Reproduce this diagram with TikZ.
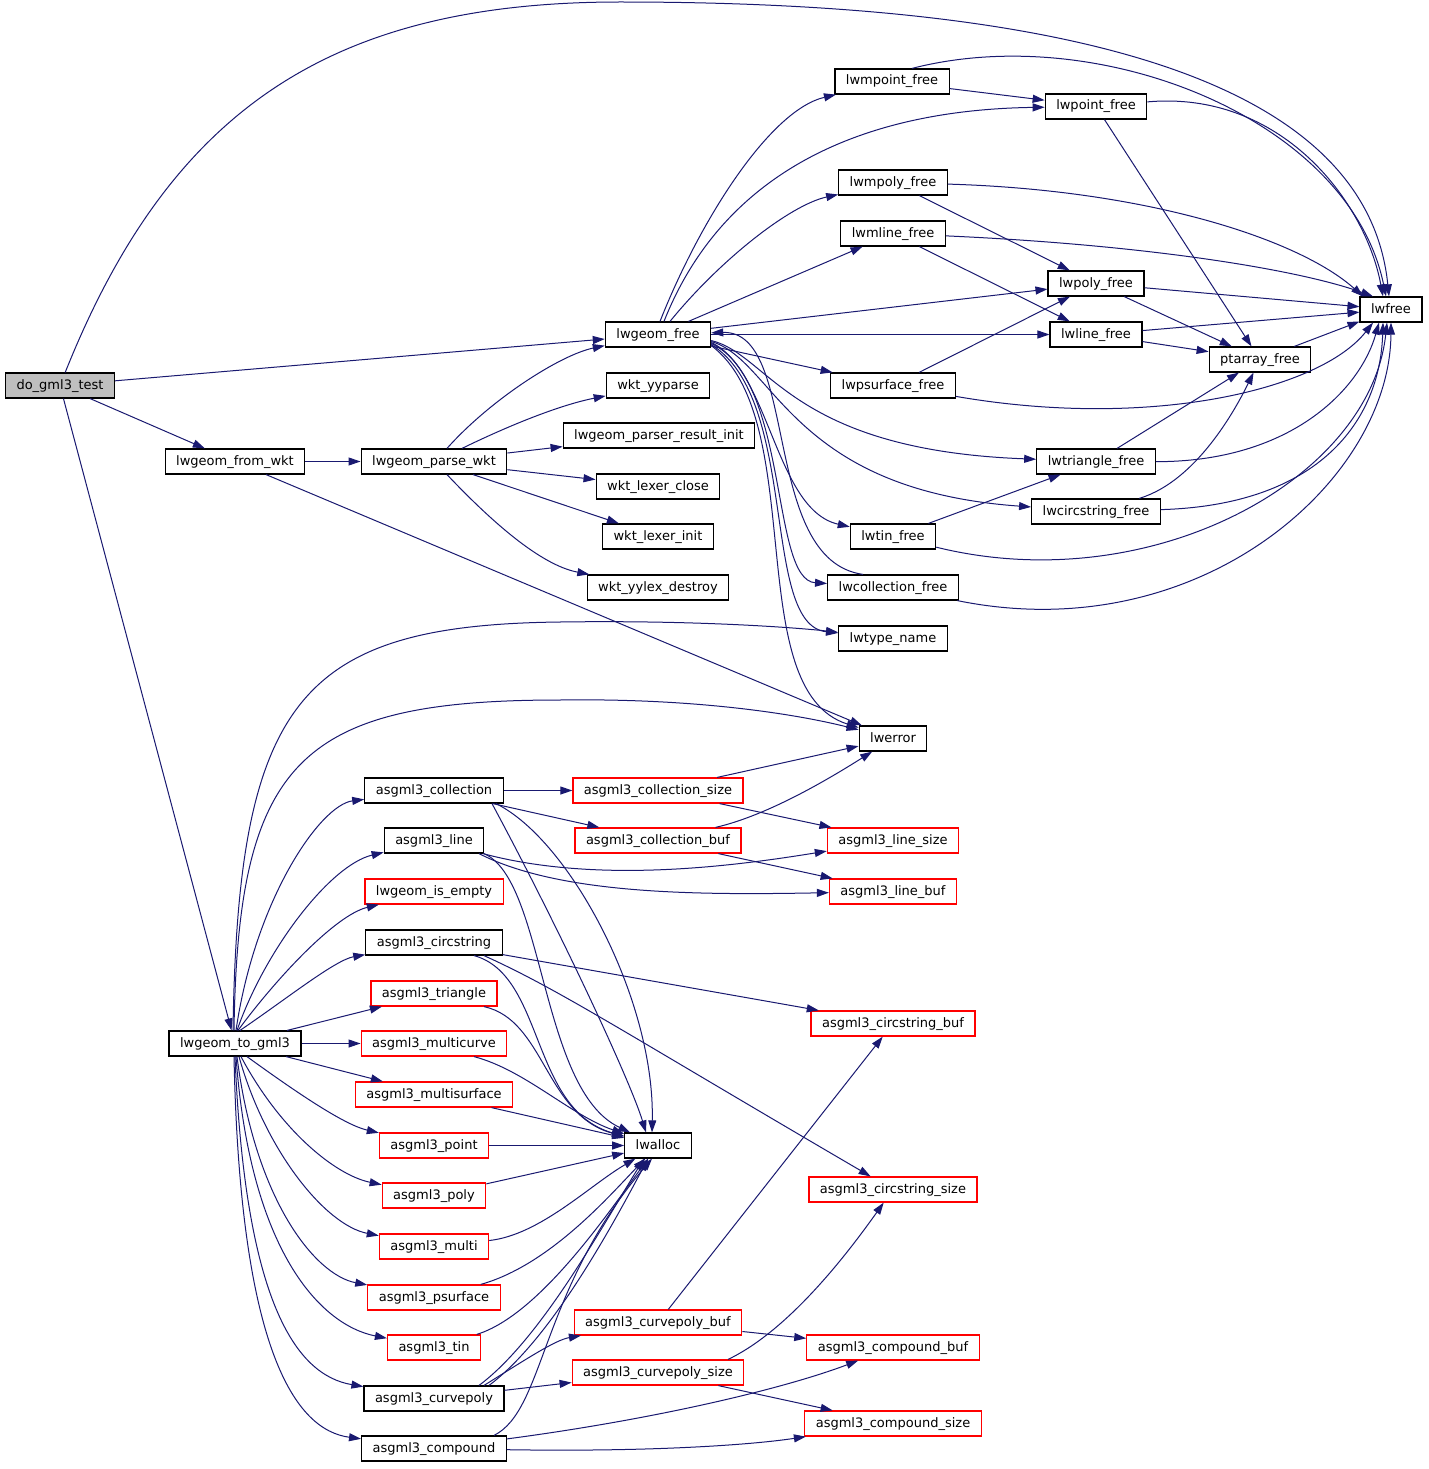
\documentclass[tikz,border=0pt]{standalone}
\usepackage{fontspec}
\setmainfont{DejaVu Sans}
\usetikzlibrary{arrows.meta}
\definecolor{edgeblue}{HTML}{191970}
\definecolor{nodered}{HTML}{FF0000}
\definecolor{rootgray}{HTML}{BFBFBF}

\begin{document}
\begin{tikzpicture}[
	x=1pt,y=-1pt,
	fn/.style={draw=black,line width=1.2pt,fill=white,inner xsep=11pt,inner ysep=0pt,
		minimum height=25pt,text height=10pt,text depth=3pt,font=\fontsize{13}{15}\selectfont},
	fnred/.style={fn,draw=nodered},
	fnroot/.style={fn,fill=rootgray},
	call/.style={draw=edgeblue,line width=1pt,-{Triangle[length=12pt,width=8pt]}}]
\fill[white] (0,0) rectangle (1428,1469);
\useasboundingbox (0,0) rectangle (1428,1469);

\node[fnroot] (dgt) at (60,385.5) {do\_gml3\_test};
\node[fn] (gfree) at (658,334.5) {lwgeom\_free};
\node[fn] (mpointfree) at (892,81.5) {lwmpoint\_free};
\node[fn] (pointfree) at (1096,106.5) {lwpoint\_free};
\node[fn] (mpolyfree) at (893,182.5) {lwmpoly\_free};
\node[fn] (mlinefree) at (893,233.5) {lwmline\_free};
\node[fn] (polyfree) at (1096,283.5) {lwpoly\_free};
\node[fn] (lwfree) at (1391,309.5) {lwfree};
\node[fn] (linefree) at (1096,334.5) {lwline\_free};
\node[fn] (ptarrayfree) at (1260,359.5) {ptarray\_free};
\node[fn] (psurffree) at (893,385.5) {lwpsurface\_free};
\node[fn] (yyparse) at (658,385.5) {wkt\_yyparse};
\node[fn] (resinit) at (659,435.5) {lwgeom\_parser\_result\_init};
\node[fn] (fromwkt) at (235,461.5) {lwgeom\_from\_wkt};
\node[fn] (parsewkt) at (434,461.5) {lwgeom\_parse\_wkt};
\node[fn] (trifree) at (1096,461.5) {lwtriangle\_free};
\node[fn] (lexclose) at (658,486.5) {wkt\_lexer\_close};
\node[fn] (circfree) at (1096,511.5) {lwcircstring\_free};
\node[fn] (tinfree) at (893,536.5) {lwtin\_free};
\node[fn] (lexinit) at (658,536.5) {wkt\_lexer\_init};
\node[fn] (collfree) at (893,587.5) {lwcollection\_free};
\node[fn] (yydestroy) at (658,587.5) {wkt\_yylex\_destroy};
\node[fn] (typename) at (893,638.5) {lwtype\_name};
\node[fn] (lwerror) at (893,738.5) {lwerror};
\node[fn] (collection) at (434,790.5) {asgml3\_collection};
\node[fnred] (collsize) at (658,790.5) {asgml3\_collection\_size};
\node[fn] (gline) at (434,840.5) {asgml3\_line};
\node[fnred] (collbuf) at (658,840.5) {asgml3\_collection\_buf};
\node[fnred] (linesize) at (893,840.5) {asgml3\_line\_size};
\node[fnred] (isempty) at (434,891.5) {lwgeom\_is\_empty};
\node[fnred] (linebuf) at (893,891.5) {asgml3\_line\_buf};
\node[fn] (circstring) at (434,942.5) {asgml3\_circstring};
\node[fnred] (triangle) at (434,993.5) {asgml3\_triangle};
\node[fnred] (circbuf) at (893,1023.5) {asgml3\_circstring\_buf};
\node[fn] (togml) at (235,1043.5) {lwgeom\_to\_gml3};
\node[fnred] (multicurve) at (434,1043.5) {asgml3\_multicurve};
\node[fnred] (multisurf) at (434,1094.5) {asgml3\_multisurface};
\node[fnred] (gpoint) at (434,1145.5) {asgml3\_point};
\node[fn] (lwalloc) at (658,1145.5) {lwalloc};
\node[fnred] (circsize) at (893,1189.5) {asgml3\_circstring\_size};
\node[fnred] (gpoly) at (434,1195.5) {asgml3\_poly};
\node[fnred] (multi) at (434,1246.5) {asgml3\_multi};
\node[fnred] (psurface) at (434,1297.5) {asgml3\_psurface};
\node[fnred] (cpolybuf) at (658,1322.5) {asgml3\_curvepoly\_buf};
\node[fnred] (compbuf) at (893,1347.5) {asgml3\_compound\_buf};
\node[fnred] (tin) at (434,1347.5) {asgml3\_tin};
\node[fnred] (cpolysize) at (658,1372.5) {asgml3\_curvepoly\_size};
\node[fn] (curvepoly) at (434,1398.5) {asgml3\_curvepoly};
\node[fnred] (compsize) at (893,1423.5) {asgml3\_compound\_size};
\node[fn] (compound) at (434,1448.5) {asgml3\_compound};

\draw[call] (dgt) .. controls (170,110) and (330,2) .. (620,2) .. controls (1150,2) and (1370,110) .. ([xshift=-2pt]lwfree.north);
\draw[call] (dgt) -- (gfree);
\draw[call] (dgt) -- (fromwkt);
\draw[call] (dgt) -- (togml);

\draw[call] ([xshift=2pt]gfree.north) .. controls (700,220) and (770,110) .. (mpointfree);
\draw[call] ([xshift=6pt]gfree.north) .. controls (720,180) and (850,110) .. (pointfree);
\draw[call] ([xshift=12pt]gfree.north) .. controls (720,260) and (790,205) .. (mpolyfree);
\draw[call] (gfree) -- (mlinefree);
\draw[call] (gfree) -- (polyfree);
\draw[call] (gfree) -- (linefree);
\draw[call] (gfree) -- (psurffree);
\draw[call] ([yshift=-6pt]gfree.east) .. controls (770,355) and (790,450) .. (trifree);
\draw[call] ([yshift=-7pt]gfree.east) .. controls (775,360) and (790,490) .. (circfree);
\draw[call] ([yshift=-8pt]gfree.east) .. controls (770,370) and (775,510) .. (tinfree);
\draw[call] ([yshift=-9pt]gfree.east) .. controls (790,380) and (770,580) .. (collfree);
\draw[call] ([yshift=-10pt]gfree.east) .. controls (800,400) and (760,625) .. (typename);
\draw[call] ([yshift=-11pt]gfree.east) .. controls (810,420) and (740,690) .. (lwerror);
\draw[call] ([xshift=-30pt]collfree.north) .. controls (760,560) and (800,330) .. (gfree);

\draw[call] (mpointfree) -- (pointfree);
\draw[call] ([xshift=20pt]mpointfree.north) .. controls (1100,20) and (1350,120) .. ([xshift=-5pt]lwfree.north);
\draw[call] (pointfree) .. controls (1280,90) and (1365,200) .. ([xshift=-8pt]lwfree.north);
\draw[call] (pointfree) -- (ptarrayfree);
\draw[call] (mpolyfree) .. controls (1150,190) and (1300,240) .. ([xshift=-28pt]lwfree.north);
\draw[call] (mpolyfree) -- (polyfree);
\draw[call] (mlinefree) .. controls (1150,245) and (1300,270) .. ([xshift=-18pt]lwfree.north);
\draw[call] (mlinefree) -- (linefree);
\draw[call] (polyfree) -- (lwfree);
\draw[call] (polyfree) -- (ptarrayfree);
\draw[call] (linefree) -- (lwfree);
\draw[call] (linefree) -- (ptarrayfree);
\draw[call] (ptarrayfree) -- (lwfree);
\draw[call] (psurffree) -- (polyfree);
\draw[call] (psurffree) .. controls (1150,430) and (1320,390) .. ([xshift=-18pt]lwfree.south);
\draw[call] (trifree) -- (ptarrayfree);
\draw[call] (trifree) .. controls (1290,462) and (1360,390) .. ([xshift=-12pt]lwfree.south);
\draw[call] (circfree) .. controls (1200,480) and (1240,400) .. (ptarrayfree);
\draw[call] (circfree) .. controls (1320,505) and (1380,420) .. ([xshift=-8pt]lwfree.south);
\draw[call] (tinfree) -- (trifree);
\draw[call] (tinfree) .. controls (1150,600) and (1370,480) .. ([xshift=-4pt]lwfree.south);
\draw[call] (collfree) .. controls (1200,650) and (1390,480) .. (lwfree.south);

\draw[call] (fromwkt) -- (parsewkt);
\draw[call] (fromwkt) -- (lwerror);
\draw[call] ([xshift=13pt]parsewkt.north) .. controls (490,400) and (560,355) .. (gfree);
\draw[call] ([xshift=28pt]parsewkt.north) .. controls (510,425) and (560,405) .. (yyparse);
\draw[call] (parsewkt) -- (resinit);
\draw[call] (parsewkt) -- (lexclose);
\draw[call] (parsewkt) -- (lexinit);
\draw[call] ([xshift=13pt]parsewkt.south) .. controls (490,520) and (540,565) .. (yydestroy);

\draw[call] ([xshift=-2pt]togml.north) .. controls (238,700) and (300,625) .. (560,622) .. controls (700,620) and (800,628) .. (typename);
\draw[call] ([xshift=-1pt]togml.north) .. controls (238,760) and (300,700) .. (560,700) .. controls (700,698) and (800,715) .. (lwerror);
\draw[call] ([xshift=1pt]togml.north) .. controls (255,900) and (320,805) .. (collection);
\draw[call] ([xshift=2pt]togml.north) .. controls (265,950) and (330,865) .. (gline);
\draw[call] ([xshift=3pt]togml.north) .. controls (275,980) and (335,915) .. (isempty);
\draw[call] ([xshift=5pt]togml.north) .. controls (285,1000) and (335,960) .. (circstring);
\draw[call] (togml) -- (triangle);
\draw[call] (togml) -- (multicurve);
\draw[call] (togml) -- (multisurf);
\draw[call] ([xshift=12pt]togml.south) .. controls (300,1095) and (345,1125) .. (gpoint);
\draw[call] ([xshift=6pt]togml.south) .. controls (280,1130) and (335,1175) .. (gpoly);
\draw[call] ([xshift=4pt]togml.south) .. controls (265,1150) and (325,1225) .. (multi);
\draw[call] ([xshift=2pt]togml.south) .. controls (255,1200) and (315,1275) .. (psurface);
\draw[call] ([xshift=1pt]togml.south) .. controls (250,1250) and (320,1325) .. (tin);
\draw[call] (togml.south) .. controls (245,1300) and (295,1375) .. (curvepoly);
\draw[call] ([xshift=-1pt]togml.south) .. controls (240,1350) and (295,1430) .. (compound);

\draw[call] (collection) -- (collsize);
\draw[call] (collection) -- (collbuf);
\draw[call] ([xshift=58pt]collection.south) .. controls (560,930) and (630,1080) .. ([xshift=-12pt]lwalloc.north);
\draw[call] ([xshift=62pt]collection.south) .. controls (570,840) and (655,1000) .. ([xshift=-6pt]lwalloc.north);
\draw[call] (collsize) -- (lwerror);
\draw[call] (collsize) -- (linesize);
\draw[call] (collbuf) .. controls (770,815) and (835,775) .. (lwerror);
\draw[call] (collbuf) -- (linebuf);
\draw[call] (gline) .. controls (600,885) and (740,865) .. (linesize);
\draw[call] ([xshift=45pt]gline.south) .. controls (560,895) and (700,895) .. (linebuf);
\draw[call] ([xshift=50pt]gline.south) .. controls (545,880) and (540,1090) .. (lwalloc);
\draw[call] (circstring) -- (circbuf);
\draw[call] ([xshift=50pt]circstring.south) .. controls (560,990) and (620,1030) .. (circsize);
\draw[call] ([xshift=40pt]circstring.south) .. controls (545,975) and (530,1110) .. (lwalloc);
\draw[call] ([xshift=50pt]triangle.south) .. controls (545,1020) and (545,1115) .. (lwalloc);
\draw[call] ([xshift=40pt]multicurve.south) .. controls (525,1070) and (570,1115) .. (lwalloc);
\draw[call] (multisurf) -- (lwalloc);
\draw[call] (gpoint) -- (lwalloc);
\draw[call] (gpoly) -- (lwalloc);
\draw[call] (multi) .. controls (540,1235) and (590,1185) .. (lwalloc);
\draw[call] (psurface) .. controls (550,1265) and (610,1195) .. (lwalloc);
\draw[call] (tin) .. controls (540,1315) and (610,1210) .. (lwalloc);
\draw[call] ([xshift=45pt]curvepoly.north) .. controls (540,1340) and (600,1230) .. ([xshift=-14pt]lwalloc.south);
\draw[call] ([xshift=55pt]curvepoly.north) .. controls (550,1340) and (610,1230) .. ([xshift=-10pt]lwalloc.south);
\draw[call] ([xshift=50pt]curvepoly.north) .. controls (525,1360) and (555,1340) .. (cpolybuf);
\draw[call] (curvepoly) -- (cpolysize);
\draw[call] ([xshift=60pt]compound.north) .. controls (545,1410) and (540,1290) .. ([xshift=-6pt]lwalloc.south);
\draw[call] (cpolybuf) -- (circbuf);
\draw[call] (cpolybuf) -- (compbuf);
\draw[call] ([xshift=70pt]cpolysize.north) .. controls (790,1330) and (850,1250) .. (circsize);
\draw[call] (cpolysize) -- (compsize);
\draw[call] (compound) .. controls (650,1420) and (780,1390) .. (compbuf);
\draw[call] (compound) .. controls (650,1452) and (750,1445) .. (compsize);
\end{tikzpicture}
\end{document}
